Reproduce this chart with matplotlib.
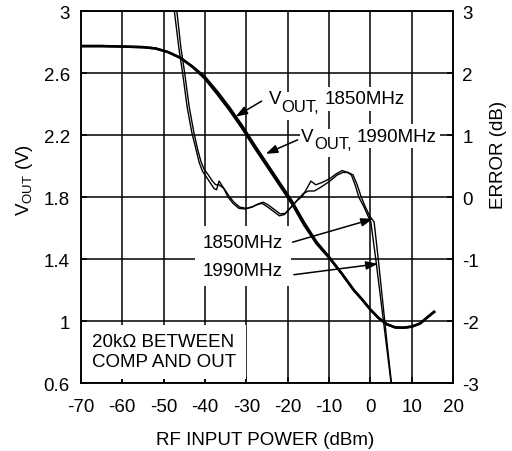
import matplotlib
matplotlib.use('Agg')
import matplotlib.pyplot as plt
from matplotlib.patches import Rectangle

plt.rcParams['font.family'] = ['Liberation Sans', 'DejaVu Sans']
plt.rcParams['mathtext.default'] = 'regular'
plt.rcParams['axes.unicode_minus'] = False

# output voltage vs RF input power (dBm -> V)
pin_vout = [-70, -65, -60, -55, -52, -49, -46, -43, -40, -37, -34, -31, -28, -25,
            -22, -19, -16, -13, -10, -7, -4, -2, 0, 2, 4, 6, 8, 10, 12, 14, 15.4]
vout_1850 = [2.775, 2.775, 2.772, 2.768, 2.76, 2.737, 2.70, 2.64, 2.565, 2.465,
             2.36, 2.245, 2.12, 2.0, 1.88, 1.76, 1.62, 1.50, 1.41, 1.31, 1.20,
             1.14, 1.075, 1.02, 0.98, 0.96, 0.958, 0.965, 0.985, 1.03, 1.06]
vout_1990 = [2.775, 2.775, 2.772, 2.768, 2.76, 2.737, 2.70, 2.643, 2.575, 2.48,
             2.375, 2.26, 2.135, 2.015, 1.895, 1.775, 1.635, 1.51, 1.415, 1.31, 1.20,
             1.14, 1.075, 1.02, 0.98, 0.96, 0.958, 0.965, 0.985, 1.03, 1.06]

# log-conformance error (dB)
pin_err_1850 = [-47.4, -46.3, -45.4, -44.3, -43.2, -42.2, -41.4, -40.6, -39.6, -38.6,
                -37.8, -37.2, -36.6, -35.6, -34.4, -33.2, -31.8, -30.2, -28.6, -27.4,
                -26.2, -25.0, -23.6, -22.0, -20.8, -19.4, -17.8, -16.4, -15.2, -14.4,
                -13.2, -11.6, -9.8, -8.2, -6.8, -5.6, -4.6, -3.6, -2.8, -1.6, -0.6,
                0.1, 1.3, 2.6, 3.9, 5.0]
err_1850 = [3.0, 2.4, 2.0, 1.45, 1.05, 0.78, 0.56, 0.42, 0.32, 0.22,
            0.14, 0.12, 0.26, 0.16, 0.0, -0.10, -0.18, -0.19, -0.16, -0.12,
            -0.10, -0.15, -0.22, -0.30, -0.28, -0.18, -0.06, 0.02, 0.16, 0.26,
            0.20, 0.24, 0.30, 0.38, 0.43, 0.40, 0.36, 0.18, 0.0, -0.15, -0.30,
            -0.40, -1.0, -1.7, -2.4, -3.0]
pin_err_1990 = [-46.8, -45.8, -44.9, -43.8, -42.7, -41.8, -41.0, -40.2, -39.2, -38.2,
                -37.4, -36.6, -35.4, -34.2, -33.0, -31.6, -30.0, -28.4, -27.2, -26.0,
                -24.8, -23.4, -21.8, -20.6, -19.2, -17.6, -16.2, -15.0, -13.6, -12.0,
                -9.8, -8.0, -6.6, -5.4, -4.2, -3.2, -2.2, -1.2, -0.2, 0.9, 1.9,
                3.0, 4.1, 5.1]
err_1990 = [3.0, 2.4, 2.0, 1.45, 1.05, 0.78, 0.58, 0.45, 0.36, 0.26,
            0.20, 0.20, 0.14, 0.02, -0.08, -0.16, -0.18, -0.15, -0.11, -0.08,
            -0.12, -0.19, -0.27, -0.26, -0.16, -0.04, 0.06, 0.10, 0.10, 0.16,
            0.26, 0.36, 0.40, 0.40, 0.36, 0.20, 0.0, -0.16, -0.30, -0.40, -1.0,
            -1.7, -2.4, -3.0]

x_ticks = [-70, -60, -50, -40, -30, -20, -10, 0, 10, 20]
vout_ticks = [0.6, 1, 1.4, 1.8, 2.2, 2.6, 3]
vout_labels = ['0.6', '1', '1.4', '1.8', '2.2', '2.6', '3']
err_ticks = [-3, -2, -1, 0, 1, 2, 3]

FS = 13.5

fig = plt.figure(figsize=(5.12, 4.52), dpi=100)
ax = fig.add_axes([0.158, 0.150, 0.727, 0.823])

ax.plot(pin_vout, vout_1850, color='black', lw=1.8, zorder=2)
ax.plot(pin_vout, vout_1990, color='black', lw=1.8, zorder=2)

ax.set_xlim(-70, 20)
ax.set_ylim(0.6, 3)
ax.set_xticks(x_ticks)
ax.set_yticks(vout_ticks, vout_labels)
ax.grid(True, color='black', lw=1.1)
ax.tick_params(direction='in', length=4, width=1.1, labelsize=FS)
ax.tick_params(axis='y', pad=8)
ax.tick_params(axis='x', pad=10.5)
for s in ax.spines.values():
    s.set_linewidth(1.1)

ax.set_xlabel('RF INPUT POWER (dBm)', fontsize=FS)
ax.xaxis.set_label_coords(0.495, -0.128)
ax.set_ylabel('V$_{OUT}$ (V)', fontsize=FS)
ax.yaxis.set_label_coords(-0.124, 0.55)

# note box in the lower left corner
ax.add_patch(Rectangle((-69.8, 0.63), 39.6, 0.345, facecolor='white',
                       edgecolor='none', zorder=2.5))
ax.text(-67.3, 0.805, '20k\u03a9 BETWEEN\nCOMP AND OUT', fontsize=FS,
        ha='left', va='center', linespacing=1.2, zorder=3)


def vout_label(x, y, freq):
    # V, subscript and frequency as three pieces; the subscript box sits lowest
    v = ax.text(x, y, 'V', fontsize=FS, ha='left', va='bottom', zorder=3.5,
                bbox=dict(facecolor='white', edgecolor='none', pad=0.5))
    sub = ax.annotate('OUT,', xy=(1, 0), xycoords=v, xytext=(0.3, -4.5),
                      textcoords='offset points', fontsize=FS - 1.5,
                      ha='left', va='bottom', zorder=3,
                      bbox=dict(facecolor='white', edgecolor='none', pad=4.5))
    ax.annotate(freq, xy=(1, 0), xycoords=sub, xytext=(4, 4.5),
                textcoords='offset points', fontsize=FS,
                ha='left', va='bottom', zorder=3.5,
                bbox=dict(facecolor='white', edgecolor='none', pad=2.5))


vout_label(-24.6, 2.38, '1850MHz')
vout_label(-16.8, 2.14, '1990MHz')

ax.text(-30.8, 1.51, '1850MHz', fontsize=FS, ha='center', va='center',
        bbox=dict(facecolor='white', edgecolor='none', pad=5.5))
ax.text(-30.8, 1.33, '1990MHz', fontsize=FS, ha='center', va='center',
        bbox=dict(facecolor='white', edgecolor='none', pad=5.5))

arrow = dict(arrowstyle='-|>,head_length=0.7,head_width=0.25', color='black',
             lw=1.1, shrinkA=0, shrinkB=0)
ax.annotate('', xy=(-32.6, 2.32), xytext=(-26.3, 2.42), arrowprops=arrow)
ax.annotate('', xy=(-25.3, 2.08), xytext=(-17.6, 2.17), arrowprops=arrow)
ax.annotate('', xy=(0.6, 1.66), xytext=(-18.8, 1.51), arrowprops=arrow)
ax.annotate('', xy=(1.8, 1.37), xytext=(-18.5, 1.30), arrowprops=arrow)

ax2 = ax.twinx()
ax2.plot(pin_err_1850, err_1850, color='black', lw=1.0)
ax2.plot(pin_err_1990, err_1990, color='black', lw=1.0)
ax2.set_ylim(-3, 3)
ax2.set_yticks(err_ticks)
ax2.tick_params(direction='in', length=4, width=1.1, labelsize=FS, pad=6.5)
ax2.set_ylabel('ERROR (dB)', fontsize=FS)
ax2.yaxis.set_label_coords(1.099, 0.616)
for s in ax2.spines.values():
    s.set_linewidth(1.1)

fig.savefig('out.png', dpi=100)
